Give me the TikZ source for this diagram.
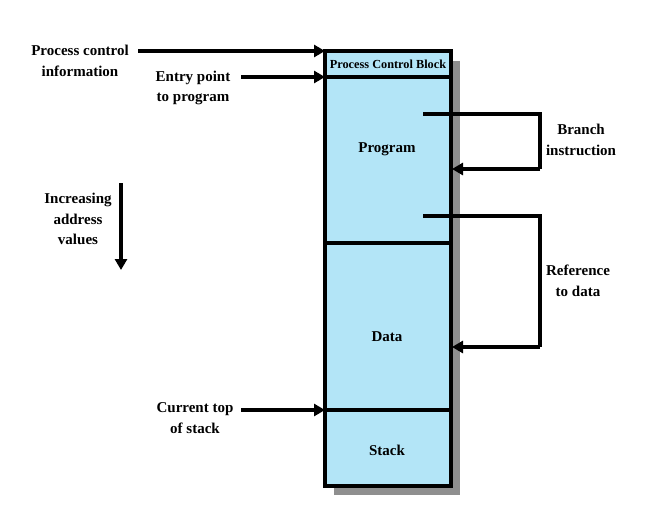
\documentclass[tikz,border=0pt]{standalone}
\usepackage{fontspec}
\setmainfont{Liberation Serif}
\usetikzlibrary{arrows.meta,positioning}
\definecolor{memblue}{HTML}{B3E5F7}
\definecolor{shadowgray}{HTML}{8F8F8F}
\tikzset{
  seg/.style={draw=black, line width=3.2pt, fill=memblue, minimum width=126pt, inner sep=0pt, outer sep=0pt},
  segtxt/.style={inner sep=0pt, font=\bfseries\fontsize{15}{18}\selectfont},
  lbl/.style={align=center, font=\bfseries\fontsize{15}{20.5}\selectfont, inner sep=0pt},
  arr/.style={line width=3.2pt, -{Triangle[length=11pt,width=12pt]}},
  ln/.style={line width=3.2pt}
}
\begin{document}
\begin{tikzpicture}[x=1pt,y=-1pt]
\useasboundingbox (0,0) rectangle (653,522);
% shadow
\fill[shadowgray] (334,61) rectangle (460,495);
% segments
\node[seg, minimum height=26pt, anchor=north west] (pcb) at (325,51) {};
\node[seg, minimum height=166pt, anchor=north west] (prog) at (325,77) {};
\node[seg, minimum height=167pt, anchor=north west] (data) at (325,243) {};
\node[seg, minimum height=76pt, anchor=north west] (stack) at (325,410) {};
\node[segtxt, font=\bfseries\fontsize{12.3}{14}\selectfont] (pcbt) at (388,64) {Process Control Block};
\node[segtxt] (progt) at (387,149) {Program};
\node[segtxt] (datat) at (387,337) {Data};
\node[segtxt] (stackt) at (387,450) {Stack};
% labels
\node[lbl] (pci) at (80,61) {Process control\\information};
\node[lbl] (entry) at (193,88) {Entry point\\to program};
\node[lbl] (inc) at (78,219) {Increasing\\address\\values};
\node[lbl] (cts) at (195,418) {Current top\\of stack};
\node[lbl] (br) at (581,140) {Branch\\instruction};
\node[lbl] (ref) at (578,281) {Reference\\to data};
% arrows from labels
\coordinate (a1) at (138,51);
\draw[arr] (a1) -- (pcb.north west);
\coordinate (a2) at (241,77);
\draw[arr] (a2) -- (prog.north west);
\coordinate (a3) at (241,410);
\draw[arr] (a3) -- (stack.north west);
\coordinate (i1) at (121,183);
\coordinate (i2) at (121,270);
\draw[arr] (i1) -- (i2);
% branch
\coordinate (b1) at (423,114);
\coordinate (b2) at (540,114);
\coordinate (b3) at (540,169);
\coordinate (b4) at (452,169);
\draw[ln] (b1) -- (b2) -- (b3);
\draw[arr] (b3) -- (b4);
% reference
\coordinate (r1) at (423,216);
\coordinate (r2) at (540,216);
\coordinate (r3) at (540,347);
\coordinate (r4) at (452,347);
\draw[ln] (r1) -- (r2) -- (r3);
\draw[arr] (r3) -- (r4);
\end{tikzpicture}
\end{document}
